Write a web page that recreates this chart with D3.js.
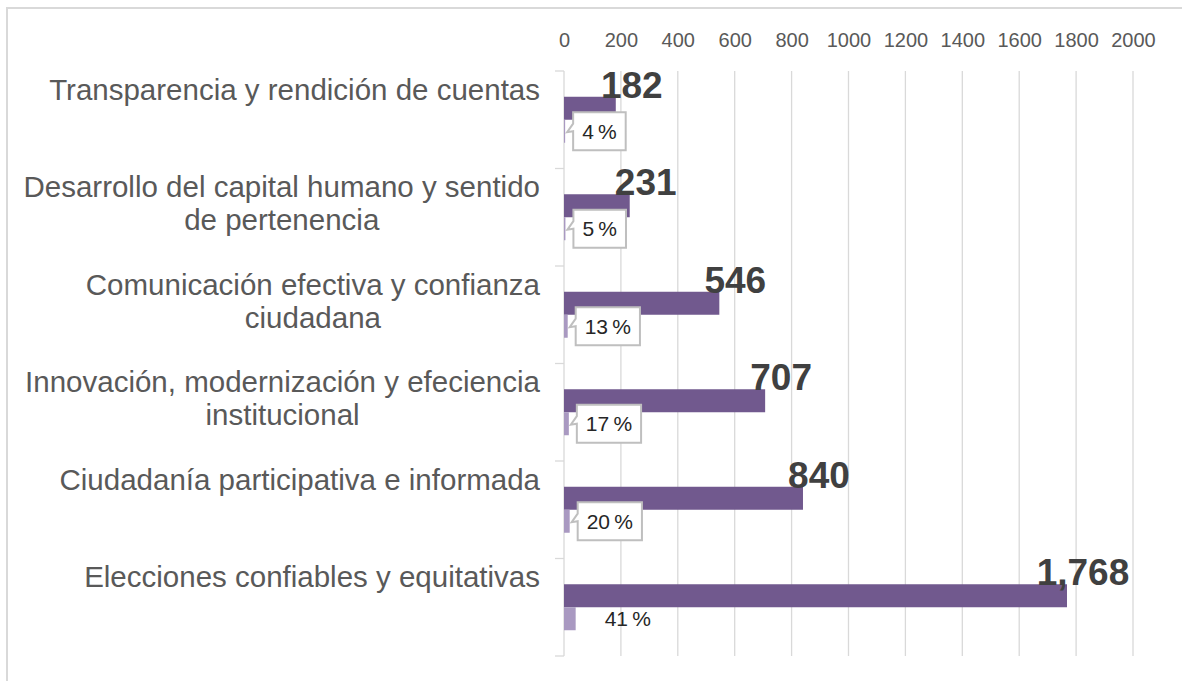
<!DOCTYPE html>
<html>
<head>
<meta charset="utf-8">
<script src="https://cdn.jsdelivr.net/npm/d3@7"></script>
<style>
  body { margin: 0; background: #fff; }
  text { font-family: "Liberation Sans", Arial, sans-serif; }
</style>
</head>
<body>
<svg width="1182" height="681"></svg>
<script>
var categories = [
  "Transparencia y rendición de cuentas",
  "Desarrollo del capital humano y sentido de pertenencia",
  "Comunicación efectiva y confianza ciudadana",
  "Innovación, modernización y efeciencia institucional",
  "Ciudadanía participativa e informada",
  "Elecciones confiables y equitativas"
];
var totals = [182, 231, 546, 707, 840, 1768];
var percents = [4, 5, 13, 17, 20, 41];
var tickValues = [0, 200, 400, 600, 800, 1000, 1200, 1400, 1600, 1800, 2000];

var svg = d3.select("svg"),
    width = +svg.attr("width"),
    height = +svg.attr("height");

// frame (only top and left edge show in the crop)
svg.append("path")
    .attr("d", "M7," + height + "V8H" + width)
    .attr("fill", "none")
    .attr("stroke", "#d9d9d9")
    .attr("stroke-width", 2);

var x = d3.scaleLinear().domain([0, 2000]).range([564, 1133]);
var y = d3.scaleBand().domain(categories).range([71, 656]);
var sub = d3.scaleBand().domain(["total", "pct"]).range([0, y.bandwidth()]).paddingOuter(1.12);

// gridlines
svg.append("g")
  .selectAll("line")
  .data(tickValues.slice(1))
  .enter().append("line")
    .attr("x1", function(d) { return x(d); })
    .attr("x2", function(d) { return x(d); })
    .attr("y1", y.range()[0])
    .attr("y2", y.range()[1])
    .attr("stroke", "#d9d9d9")
    .attr("stroke-width", 1.3);

// top axis labels
var axis = svg.append("g")
    .attr("transform", "translate(0,47)")
    .call(d3.axisTop(x).tickValues(tickValues).tickSize(0).tickPadding(0).tickFormat(d3.format("d")));
axis.select(".domain").remove();
axis.selectAll("text")
    .attr("dy", "0em")
    .style("font-family", "Liberation Sans, Arial, sans-serif")
    .style("font-size", "20px")
    .attr("fill", "#595959");

// category axis line + ticks
svg.append("line")
    .attr("x1", x(0)).attr("x2", x(0))
    .attr("y1", y.range()[0]).attr("y2", y.range()[1])
    .attr("stroke", "#d9d9d9").attr("stroke-width", 1.3);
var bounds = categories.map(function(c) { return y(c); }).concat([y.range()[1]]);
svg.append("g").selectAll("line")
  .data(bounds)
  .enter().append("line")
    .attr("x1", x(0) - 9).attr("x2", x(0))
    .attr("y1", function(d) { return d; })
    .attr("y2", function(d) { return d; })
    .attr("stroke", "#d9d9d9").attr("stroke-width", 1.3);

// bars
svg.append("g").selectAll("rect")
  .data(totals)
  .enter().append("rect")
    .attr("x", x(0))
    .attr("y", function(d, i) { return y(categories[i]) + sub("total"); })
    .attr("width", function(d) { return x(d) - x(0); })
    .attr("height", sub.bandwidth())
    .attr("fill", "#71598e");

svg.append("g").selectAll("rect")
  .data(percents)
  .enter().append("rect")
    .attr("x", x(0))
    .attr("y", function(d, i) { return y(categories[i]) + sub("pct"); })
    .attr("width", function(d) { return x(d) - x(0); })
    .attr("height", sub.bandwidth())
    .attr("fill", "#a999c1");

// total labels
svg.append("g").selectAll("text")
  .data(totals)
  .enter().append("text")
    .attr("x", function(d) { return x(d) + 16; })
    .attr("y", function(d, i) { return y(categories[i]) + sub("total") + 1; })
    .attr("text-anchor", "middle")
    .attr("font-size", 37)
    .attr("font-weight", "bold")
    .attr("fill", "#404040")
    .text(function(d) { return d3.format(",")(d); });

// percent labels (callouts)
var pctG = svg.append("g");
percents.forEach(function(p, i) {
  var cy = y(categories[i]) + sub("pct") + sub.bandwidth() / 2;
  var label = p + "\u2009%";
  if (i === percents.length - 1) {
    pctG.append("text")
      .attr("x", x(p) + 29)
      .attr("y", cy + 7)
      .attr("font-size", 21)
      .attr("fill", "#262626")
      .text(label);
    return;
  }
  var g = pctG.append("g");
  var box = g.append("path");
  var t = g.append("text")
      .attr("font-size", 21)
      .attr("fill", "#262626")
      .attr("text-anchor", "middle")
      .text(label);
  var tw = t.node().getComputedTextLength();
  var bx = x(p) + 8, bw = tw + 18, bh = 38, by = cy - bh / 2;
  var tipX = x(p) + 2, tipY = cy + 1;
  box.attr("d", "M" + bx + "," + by + "H" + (bx + bw) + "V" + (by + bh) + "H" + bx +
             "V" + (by + bh * 0.5) + "L" + tipX + "," + tipY + "L" + bx + "," + (by + bh * 0.3) + "Z")
    .attr("fill", "#fff")
    .attr("stroke", "#bfbfbf")
    .attr("stroke-width", 2);
  t.attr("x", bx + bw / 2).attr("y", cy + 7.5);
});

// category labels, wrapped and centred as a block right-aligned to the axis
var labelG = svg.append("g");
categories.forEach(function(c, i) {
  var words = c.split(" "), lines = [], line = [];
  var probe = labelG.append("text").attr("font-size", 29.5);
  words.forEach(function(w) {
    line.push(w);
    probe.text(line.join(" "));
    if (probe.node().getComputedTextLength() > 530 && line.length > 1) {
      line.pop();
      lines.push(line.join(" "));
      line = [w];
    }
  });
  lines.push(line.join(" "));
  var widths = lines.map(function(l) { probe.text(l); return probe.node().getComputedTextLength(); });
  probe.remove();
  var bw = d3.max(widths), cx = 540 - bw / 2;
  lines.forEach(function(l, j) {
    labelG.append("text")
      .attr("x", cx)
      .attr("y", y(c) + 28.5 + j * 33)
      .attr("text-anchor", "middle")
      .attr("font-size", 29.5)
      .attr("fill", "#595959")
      .text(l);
  });
});
</script>
</body>
</html>
